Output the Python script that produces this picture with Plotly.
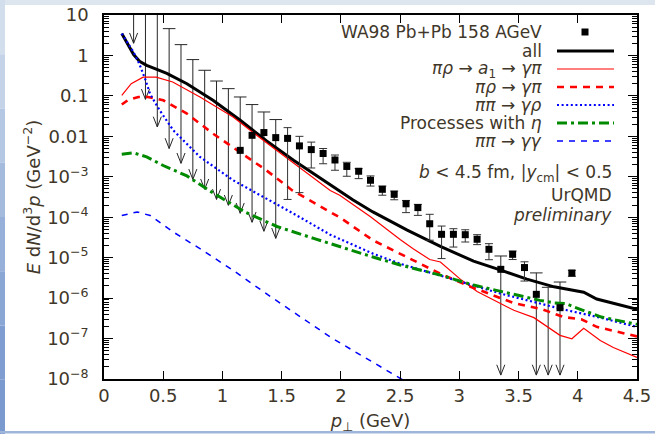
import plotly.graph_objects as go

# ---------------- WA98 Pb+Pb 158 AGeV direct photons ----------------
wa98_pt = [0.25, 0.35, 0.45, 0.55, 0.65, 0.75, 0.85, 0.95, 1.05, 1.15,
           1.25, 1.35, 1.45, 1.55, 1.65, 1.75, 1.85, 1.95, 2.05, 2.15,
           2.25, 2.35, 2.45, 2.55, 2.65, 2.75, 2.85, 2.95, 3.05, 3.15,
           3.25, 3.35, 3.45, 3.55, 3.65, 3.75, 3.85, 3.95]
wa98_val = [None, None, None, None, None, None, None, None, None, 4.5e-3,
            0.0106, 0.0124, 0.0093, 0.0089, 0.0058, 0.0047, 0.00376, 0.0026, 0.0018, 0.00137,
            8.2e-4, 4.9e-4, 3.68e-4, 2.15e-4, 1.73e-4, 6.9e-5, 3.78e-5, 3.78e-5, 3.7e-5, 2.85e-5,
            1.61e-5, 5.15e-6, 1.21e-5, 5.7e-6, 1.24e-6, None, 5.8e-7, 4.17e-6]
wa98_hi = [30, 30, 30, 4.6, 1.85, 0.79, 0.43, 0.233, 0.151, 0.094,
           0.061, 0.040, 0.026, 0.0164, 0.0100, 0.0072, 0.0050, 0.00345, 0.00228, 0.00159,
           0.00105, 5.9e-4, 4.45e-4, 2.6e-4, 2.08e-4, 1.18e-4, 6.05e-5, 5.2e-5, 4.9e-5, 3.7e-5,
           2.22e-5, 1.1e-5, 1.46e-5, 7.9e-6, 4.2e-6, 1.85e-6, 2.5e-6, 4.86e-6]
wa98_lo = [2.0, 0.082, 0.017, 0.005, 2.15e-3, 8.6e-4, 4.9e-4, 2.75e-4, 1.97e-4, 1.25e-4,
           7.5e-5, 4.5e-5, 3.0e-5, 2.75e-4, 4.06e-4, 1.65e-3, 2.1e-3, 1.45e-3, 1.03e-3, 9.0e-4,
           5.9e-4, 3.5e-4, 2.7e-4, 1.3e-4, 1.11e-4, 2.7e-5, 9.5e-6, 1.83e-5, 2.44e-5, 2.1e-5,
           8.9e-6, 1.25e-8, 9.0e-6, 2.64e-6, 1.25e-8, 1.25e-8, 1.25e-8, 3.46e-6]
# True: the lower end is an upper-limit arrow
wa98_arrow = [True] * 13 + [False] * 18 + [True, False, False, True, True, True, False]

# ---------------- UrQMD photon rates ----------------
all_pt = [0.15, 0.25, 0.3, 0.36, 0.43, 0.53, 0.7, 0.92, 1.15, 1.37, 1.6, 1.91, 1.99,
          2.1, 2.27, 2.56, 2.84, 3.12, 3.35, 3.57, 3.8, 3.96, 4.05, 4.16, 4.36, 4.5]
all_y = [3.47, 1.05, 0.72, 0.57, 0.47, 0.36, 0.2, 0.078, 0.025, 0.0078, 0.00255, 6.15e-4, 4.4e-4,
         2.7e-4, 1.35e-4, 4.8e-5, 1.9e-5, 8.2e-6, 4.9e-6, 2.95e-6, 1.9e-6, 1.6e-6, 1.4e-6, 9.5e-7, 6.6e-7, 5.3e-7]

a1_pt = [0.15, 0.23, 0.33, 0.44, 0.58, 0.81, 1.09, 1.4, 1.91, 1.99, 2.25, 2.5, 2.61, 2.75,
         2.84, 2.92, 3.02, 3.15, 3.29, 3.46, 3.63, 3.74, 3.85, 3.95, 4.05, 4.19, 4.3, 4.5]
a1_y = [0.103, 0.2, 0.29, 0.29, 0.22, 0.094, 0.030, 0.006, 4.6e-4, 3.5e-4, 1.03e-4, 2.8e-5, 1.67e-5, 9.0e-6,
        7.8e-6, 4.86e-6, 2.75e-6, 1.45e-6, 8.8e-7, 5.0e-7, 3.29e-7, 2.0e-7, 1.2e-7, 9.9e-8, 1.8e-7, 9.0e-8, 6.0e-8, 3.4e-8]

rho_pt = [0.15, 0.2, 0.29, 0.37, 0.5, 0.7, 0.92, 1.15, 1.37, 1.59, 1.88, 2.0, 2.27,
          2.56, 2.84, 3.06, 3.29, 3.46, 3.7, 3.88, 4.03, 4.16, 4.5]
rho_y = [0.061, 0.078, 0.094, 0.094, 0.078, 0.0365, 0.0117, 0.0041, 0.00145, 4.6e-4, 1.5e-4, 9.5e-5, 2.7e-5,
         1.04e-5, 4.0e-6, 2.1e-6, 1.17e-6, 7.5e-7, 5.3e-7, 3.4e-7, 3.0e-7, 1.95e-7, 1.13e-7]

pipi_rho_pt = [0.15, 0.25, 0.3, 0.35, 0.39, 0.47, 0.585, 0.81, 1.09, 1.37, 1.6, 1.91, 2.0,
               2.27, 2.5, 2.78, 3.06, 3.35, 3.63, 3.91, 4.19, 4.5]
pipi_rho_y = [3.47, 1.2, 0.6, 0.25, 0.11, 0.044, 0.0141, 0.0031, 8.2e-4, 2.9e-4, 1.23e-4, 3.7e-5, 2.8e-5,
              1.26e-5, 7.1e-6, 4.0e-6, 2.28e-6, 1.29e-6, 8.0e-7, 5.0e-7, 3.3e-7, 1.93e-7]

eta_pt = [0.15, 0.25, 0.36, 0.5, 0.7, 0.92, 1.2, 1.46, 1.77, 1.99, 2.27, 2.5, 2.84,
          3.12, 3.4, 3.68, 3.8, 3.9, 3.97, 4.2, 4.5]
eta_y = [3.6e-3, 3.9e-3, 3.1e-3, 1.9e-3, 1.05e-3, 4.0e-4, 1.3e-4, 5.9e-5, 3.0e-5, 1.85e-5, 1.04e-5, 6.6e-6, 3.7e-6,
         2.1e-6, 1.34e-6, 8.8e-7, 7.6e-7, 7.3e-7, 6.0e-7, 3.4e-7, 2.24e-7]

gg_pt = [0.15, 0.28, 0.39, 0.585, 0.81, 1.09, 1.37, 1.66, 1.91, 2.1, 2.49, 2.6]
gg_y = [1.1e-4, 1.35e-4, 1.1e-4, 4.3e-5, 1.67e-5, 4.86e-6, 1.29e-6, 3.4e-7, 1.09e-7, 5.1e-8, 1.12e-8, 7.0e-9]

# ---------------- axis ticks ----------------
x_ticks = [0, 0.5, 1, 1.5, 2, 2.5, 3, 3.5, 4, 4.5]
y_ticks = [1e1, 1, 1e-1, 1e-2, 1e-3, 1e-4, 1e-5, 1e-6, 1e-7, 1e-8]
y_ticktext = ["10", "1", "0.1", "0.01", "10<sup>−3</sup>", "10<sup>−4</sup>", "10<sup>−5</sup>",
              "10<sup>−6</sup>", "10<sup>−7</sup>", "10<sup>−8</sup>"]

TXT = "#3f3729"
FONT = "DejaVu Sans"
RED, BLUE, GREEN = "#ff0000", "#0000ff", "#008a00"

curves = [
    (all_pt, all_y, dict(color="black", width=3, dash="solid")),
    (a1_pt, a1_y, dict(color=RED, width=1.2, dash="solid")),
    (rho_pt, rho_y, dict(color=RED, width=2.6, dash="7px,6px")),
    (pipi_rho_pt, pipi_rho_y, dict(color=BLUE, width=2.2, dash="2px,2.6px")),
    (eta_pt, eta_y, dict(color=GREEN, width=3, dash="10px,4px,3px,4px")),
    (gg_pt, gg_y, dict(color=BLUE, width=1.5, dash="6px,6px")),
]

fig = go.Figure()

# upper-limit arrows: vertical bar from the upper end down to an open arrow head
ARROW_DX = 0.034      # half-width of the head in GeV
ARROW_F = 1.8         # head length as a factor in y
ax_x, ax_y = [], []
for pt, hi, lo, arr in zip(wa98_pt, wa98_hi, wa98_lo, wa98_arrow):
    if not arr:
        continue
    ax_x += [pt, pt, None, pt - ARROW_DX, pt, pt + ARROW_DX, None]
    ax_y += [hi, lo, None, lo * ARROW_F, lo, lo * ARROW_F, None]
fig.add_trace(go.Scatter(x=ax_x, y=ax_y, mode="lines",
                         line=dict(color="#262626", width=1), hoverinfo="skip"))
cap_x = [pt for pt, arr in zip(wa98_pt, wa98_arrow) if arr]
cap_y = [hi for hi, arr in zip(wa98_hi, wa98_arrow) if arr]
fig.add_trace(go.Scatter(x=cap_x, y=cap_y, mode="markers", cliponaxis=True,
                         marker=dict(symbol="line-ew", size=9, line=dict(color="#262626", width=1)),
                         hoverinfo="skip"))

# curves
for xs, ys, ln in curves:
    fig.add_trace(go.Scatter(x=xs, y=ys, mode="lines", line=ln, hoverinfo="skip"))

# measured points with two-sided error bars
ex, ey, eplus, eminus = [], [], [], []
for pt, v, hi, lo, arr in zip(wa98_pt, wa98_val, wa98_hi, wa98_lo, wa98_arrow):
    if v is None or arr:
        continue
    ex.append(pt); ey.append(v); eplus.append(hi - v); eminus.append(v - lo)
fig.add_trace(go.Scatter(x=ex, y=ey, mode="markers",
                         marker=dict(symbol="square", size=7, color="black"),
                         error_y=dict(type="data", symmetric=False, array=eplus, arrayminus=eminus,
                                      color="#333333", thickness=1, width=4),
                         hoverinfo="skip"))
# measured points whose lower end is an upper limit
sx = [pt for pt, v, arr in zip(wa98_pt, wa98_val, wa98_arrow) if arr and v is not None]
sy = [v for v, arr in zip(wa98_val, wa98_arrow) if arr and v is not None]
fig.add_trace(go.Scatter(x=sx, y=sy, mode="markers",
                         marker=dict(symbol="square", size=7, color="black"), hoverinfo="skip"))

# ---------------- layout ----------------
W, H = 655, 434
L, R, T, B = 104, 637, 15, 379


def xp(px):
    return (px - L) / (R - L)


def yp(py):
    return (B - py) / (B - T)


shapes = []
# slide frame: light band on top, bluish band on the left, thin line at the bottom
shapes.append(dict(type="rect", xref="paper", yref="paper", x0=xp(0), x1=xp(W), y0=yp(5), y1=yp(0),
                   fillcolor="#dde5ef", line=dict(width=0), layer="below"))
left_cols = ["#d3deec", "#c4d3e8", "#b4c7e3", "#a5bbde", "#97b0d9", "#8aa6d4", "#7f9dd0", "#7a99ce"]
n = len(left_cols)
for i, c in enumerate(left_cols):
    shapes.append(dict(type="rect", xref="paper", yref="paper", x0=xp(0), x1=xp(5),
                       y0=yp(H * (i + 1) / n), y1=yp(H * i / n),
                       fillcolor=c, line=dict(width=0), layer="below"))
shapes.append(dict(type="rect", xref="paper", yref="paper", x0=xp(0), x1=xp(W), y0=yp(433.5), y1=yp(431),
                   fillcolor="#9fb6da", line=dict(width=0), layer="below"))

# legend
LEG_SIZE = 17
leg_y = [32, 51, 69, 87, 105, 123, 141]
leg_text = ["WA98 Pb+Pb 158 AGeV", "all",
            "<i>πρ</i> → <i>a</i><sub>1</sub> → <i>γπ</i>",
            "<i>πρ</i> → <i>γπ</i>",
            "<i>ππ</i> → <i>γρ</i>",
            "Processes with <i>η</i>",
            "<i>ππ</i> → <i>γγ</i>"]
annotations = []
for ty, tt in zip(leg_y, leg_text):
    annotations.append(dict(text=tt, x=xp(544), y=yp(ty), xref="paper", yref="paper",
                            xanchor="right", yanchor="middle", showarrow=False,
                            font=dict(family=FONT, size=LEG_SIZE, color=TXT)))
shapes.append(dict(type="rect", xref="paper", yref="paper", x0=xp(581.5), x1=xp(588.5),
                   y0=yp(35.5), y1=yp(28.5), fillcolor="black", line=dict(width=0)))
for ty, (_, _, ln) in zip(leg_y[1:], curves):
    shapes.append(dict(type="line", xref="paper", yref="paper", x0=xp(557), x1=xp(614),
                       y0=yp(ty), y1=yp(ty), line=ln))

info = [(173, "<i>b</i> < 4.5 fm, |<i>y</i><sub>cm</sub>| < 0.5"),
        (195, "UrQMD"),
        (215, "<i>preliminary</i>")]
for ty, tt in info:
    annotations.append(dict(text=tt, x=xp(614), y=yp(ty), xref="paper", yref="paper",
                            xanchor="right", yanchor="middle", showarrow=False,
                            font=dict(family=FONT, size=LEG_SIZE, color=TXT)))

fig.update_layout(
    width=W, height=H, autosize=False,
    margin=dict(l=L, r=W - R, t=T, b=H - B, pad=0, autoexpand=False),
    paper_bgcolor="white", plot_bgcolor="white",
    showlegend=False,
    font=dict(family=FONT, size=18, color=TXT),
    shapes=shapes, annotations=annotations,
    xaxis=dict(range=[0, 4.5], tickmode="array", tickvals=x_ticks, automargin=False,
               ticks="inside", ticklen=8, tickwidth=1, tickcolor="black",
               showline=True, linecolor="black", linewidth=1.5, mirror="ticks",
               showgrid=False, zeroline=False, ticklabelstandoff=0,
               tickfont=dict(family=FONT, size=18, color=TXT),
               title=dict(text="<i>p</i><sub>⊥</sub> (GeV)", standoff=15,
                          font=dict(family=FONT, size=18, color=TXT))),
    yaxis=dict(type="log", range=[-8, 1], tickmode="array", tickvals=y_ticks, ticktext=y_ticktext,
               automargin=False,
               ticks="inside", ticklen=9, tickwidth=1, tickcolor="black",
               minor=dict(ticks="inside", ticklen=5, tickwidth=1, tickcolor="black", showgrid=False,
                          tickvals=[m * 10.0 ** k for k in range(-8, 1) for m in range(2, 10)]),
               showline=True, linecolor="black", linewidth=1.5, mirror="ticks",
               showgrid=False, zeroline=False, ticklabelstandoff=10,
               tickfont=dict(family=FONT, size=18, color=TXT),
               title=dict(text="<i>E</i> d<i>N</i>/d<sup>3</sup><i>p</i> (GeV<sup>−2</sup>)", standoff=2,
                          font=dict(family=FONT, size=18, color=TXT))),
)

fig.write_html("out.html")
